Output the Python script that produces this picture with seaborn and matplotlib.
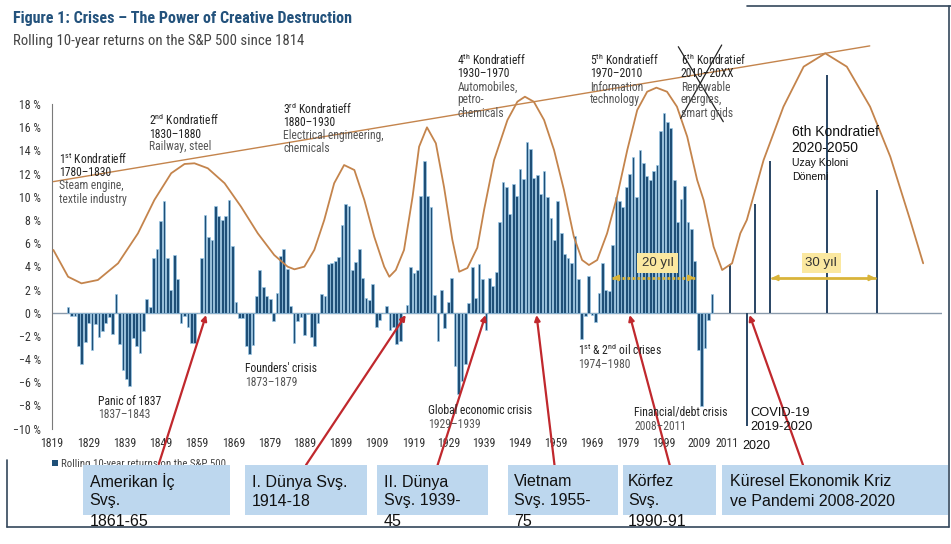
import numpy as np
import pandas as pd
import matplotlib
matplotlib.use('Agg')
import matplotlib.pyplot as plt
import seaborn as sns
from matplotlib.lines import Line2D
from matplotlib.patches import Rectangle
from matplotlib import font_manager

sns.set_style('white')
_avail = {f.name for f in font_manager.fontManager.ttflist}
NAME = next((n for n in ['Roboto Condensed', 'Fira Sans Condensed', 'PT Sans Narrow', 'Archivo Narrow',
                         'Asap Condensed', 'Liberation Sans Narrow'] if n in _avail), 'DejaVu Sans')
NARROW = [NAME, 'DejaVu Sans']
ARIAL = ['Liberation Sans', 'DejaVu Sans']
plt.rcParams['font.family'] = NARROW
plt.rcParams['mathtext.fontset'] = 'custom'
plt.rcParams['mathtext.rm'] = NAME
plt.rcParams['mathtext.it'] = NAME
plt.rcParams['mathtext.bf'] = NAME + ':bold'

# ---------------- data ----------------
years = list(range(1823, 2012))
returns = [0.46, -0.3, -0.3, -2.85, -4.45, -2.5, -0.9, -3.2, -1.0, -2.1,
           -1.6, -0.9, -0.35, -1.8, 1.6, -2.7, -4.9, -5.7, -6.3, -2.2,
           -2.9, -3.5, -1.6, 1.2, 0.5, 4.7, 5.5, 7.9, 9.6, 4.7,
           1.95, 5.0, 2.9, -0.86, -0.3, -1.2, -2.6, -2.6, 0, 4.7,
           8.4, 6.55, 6.3, 9.2, 8.3, 8.0, 8.3, 9.7, 5.75, 0.9,
           -0.43, -0.43, -2.9, -3.6, -2.8, 1.4, 3.7, 2.2, 1.4, 1.2,
           -0.7, 1.7, 4.9, 5.5, 3.8, 0.57, -2.6, -0.7, -0.4, -1.9,
           -0.1, -2.1, -2.9, -0.9, 1.6, 1.4, 4.2, 4.25, 4.5, 4.8,
           7.6, 9.4, 9.2, 3.7, 4.4, 5.5, 3.0, 1.3, 1.1, 2.5,
           -1.2, -0.6, 0, 0.6, -1.5, -1.2, -2.7, -2.4, 0, 0.63,
           3.9, 3.4, 3.7, 10.1, 13.1, 10.1, 9.1, 1.5, -2.4, 1.95,
           -1.35, 0.9, 3.0, -4.6, -7.0, -5.9, -4.4, 0.8, 3.9, 1.3,
           4.2, 2.9, -1.5, 3.0, 2.3, 3.5, 7.8, 11.3, 10.8, 8.5,
           11.1, 10.1, 12.4, 11.5, 14.7, 14.1, 11.6, 11.9, 10.2, 12.2,
           10.0, 8.2, 6.3, 9.6, 6.9, 5.1, 4.7, 4.25, 6.6, 2.9,
           -2.3, -0.3, 3.2, -0.2, -0.8, 1.7, 4.3, 2.0, 1.9, 5.8,
           10.0, 9.65, 9.1, 10.8, 12.0, 13.4, 10.0, 14.0, 12.9, 11.8,
           11.4, 12.2, 12.7, 15.7, 17.2, 16.4, 15.9, 11.4, 7.8, 9.8,
           10.9, 7.8, 7.2, 4.5, -3.2, -8.0, -3.0, -0.6, 1.6]

future_x = [2016.4, 2021.3, 2023.7, 2028.0, 2044.6, 2059.2]
future_returns = [4.2, -9.8, 9.4, 13.1, 20.5, 10.6]

wave_x = [1818.7, 1823.0, 1826.9, 1831.7, 1837.6, 1843.4, 1848.2, 1853.1, 1857.0, 1859.9,
          1863.8, 1868.7, 1873.5, 1878.4, 1883.2, 1887.1, 1889.1, 1892.0, 1894.9, 1897.8,
          1900.7, 1903.6, 1906.6, 1909.5, 1912.4, 1915.3, 1916.8, 1918.7, 1921.1, 1923.6,
          1925.5, 1927.8, 1930.4, 1932.8, 1935.2, 1937.2, 1939.6, 1942.5, 1944.5, 1947.4,
          1951.3, 1954.2, 1956.4, 1959.0, 1962.0, 1964.9, 1967.8, 1970.7, 1973.1, 1975.1,
          1977.5, 1980.4, 1983.3, 1986.3, 1989.2, 1992.1, 1994.8, 1997.9, 2000.8, 2003.8,
          2006.7, 2008.6, 2011.5, 2014.0, 2016.9, 2019.3, 2021.2, 2026.1, 2031.9, 2037.8,
          2044.1, 2050.4, 2057.2, 2063.1, 2068.9, 2072.7]
wave_y = [5.41, 3.10, 2.53, 2.82, 4.26, 6.84, 9.72, 12.02, 12.82, 12.88,
          12.45, 11.16, 9.14, 6.84, 4.97, 3.97, 3.74, 3.97, 5.41, 7.99,
          11.16, 12.73, 12.30, 9.72, 6.55, 3.97, 3.10, 3.68, 5.41, 10.0,
          14.31, 15.98, 14.60, 10.8, 6.3, 3.53, 3.85, 5.6, 8.9, 13.16,
          16.61, 18.19, 18.62, 18.19, 16.61, 14.03, 10.58, 6.55, 4.54, 4.11,
          4.54, 6.84, 10.0, 14.03, 17.47, 19.05, 19.40, 19.05, 17.76, 15.17,
          11.44, 9.7, 5.69, 3.68, 4.26, 6.84, 7.99, 13.16, 17.76, 21.21,
          22.36, 21.21, 17.76, 13.45, 7.99, 4.26]

trend_x = [1818.7, 2057.1]
trend_y = [11.3, 23.0]

tick_pos = [1818.3, 1829.0, 1839.5, 1850.0, 1860.7, 1871.3, 1881.8, 1892.2, 1902.7, 1913.1,
            1923.8, 1934.3, 1944.5, 1955.0, 1965.4, 1975.9, 1986.4, 1996.9, 2007.3, 2015.4, 2024.0]
tick_labels = ['1819', '1829', '1839', '1849', '1859', '1869', '1879', '1889', '1899', '1909',
               '1919', '1929', '1939', '1949', '1959', '1969', '1979', '1999', '2009', '2011', '2020']

y_ticks = list(range(-10, 19, 2))

arrow_years = [1863.3, 1921.6, 1944.9, 1959.8, 1987.0, 2022.0]
box_labels = ['Amerikan İç\nSvş.\n1861-65', 'I. Dünya Svş.\n1914-18', 'II. Dünya\nSvş. 1939-\n45',
              'Vietnam\nSvş. 1955-\n75', 'Körfez\nSvş.\n1990-91', 'Küresel Ekonomik Kriz\nve Pandemi 2008-2020']

# ---------------- figure ----------------
W, H = 951, 544
fig = plt.figure(figsize=(W / 100, H / 100), dpi=100)


def P(x, y):
    return (x / W, 1 - y / H)


ax = fig.add_axes([52 / W, 1 - 463.5 / H, 890 / W, 440.8 / H])
ax.patch.set_alpha(0)

NAVY = '#1f4f77'
ORANGE = '#c4844c'

ax.axhline(0, color='#8a9aab', lw=1.0, zorder=1)

hist = pd.DataFrame({'year': years, 'ret': returns})
sns.barplot(data=hist, x='year', y='ret', native_scale=True, width=0.8, color=NAVY,
            edgecolor='#9ccbea', linewidth=0.45, errorbar=None, saturation=1, ax=ax, zorder=2)
fut = pd.DataFrame({'year': future_x, 'ret': future_returns})
sns.barplot(data=fut, x='year', y='ret', native_scale=True, width=0.25, color='#2e4a68',
            linewidth=0, errorbar=None, saturation=1, ax=ax, zorder=2)

sns.lineplot(x=wave_x, y=wave_y, sort=False, color=ORANGE, lw=1.3, ax=ax, zorder=4)
sns.lineplot(x=trend_x, y=trend_y, sort=False, color=ORANGE, lw=1.0, ax=ax, zorder=4)

ax.set_xlim(1818.71, 2078.2)
ax.set_ylim(-13, 25)
for s in ['top', 'right', 'bottom']:
    ax.spines[s].set_visible(False)
ax.spines['left'].set_bounds(-10, 18)
ax.spines['left'].set_color('#7a7a7a')
ax.spines['left'].set_linewidth(0.8)
ax.set_yticks(y_ticks)
ax.set_yticklabels([f'{v} %'.replace('-', '\u2212') for v in y_ticks])
ax.tick_params(axis='y', length=5, width=0.8, color='#7a7a7a', pad=3, labelsize=8.6, labelcolor='#333333')
ax.set_xticks(tick_pos[:-1], tick_labels[:-1])
ax.set_xticks([tick_pos[-1]], [tick_labels[-1]], minor=True)
ax.tick_params(axis='x', which='major', length=0, pad=-19, labelsize=8.6, labelcolor='#333333')
ax.tick_params(axis='x', which='minor', length=0, pad=-17, labelsize=9, labelcolor='#111111')
for t in ax.xaxis.get_minorticklabels():
    t.set_family(ARIAL)
ax.set_xlabel('')
ax.set_ylabel('')

# ---------------- titles ----------------
fig.text(*P(13, 19), 'Figure 1: Crises \u2013 The Power of Creative Destruction', fontsize=11.6,
         fontweight='bold', color='#23527c', va='center')
fig.text(*P(13, 41), 'Rolling 10-year returns on the S&P 500 since 1814', fontsize=10.6,
         color='#444444', va='center')


def block(x, ys, lines, colors, size=8.4, family=NARROW):
    for y, s, c in zip(ys, lines, colors):
        fig.text(*P(x, y), s, fontsize=size, color=c, va='center', family=family)


DK, GR = '#222222', '#555555'
block(59.3, [159, 172.7, 186, 199.3],
      ['1$^{\\mathrm{st}}$ Kondratieff', '1780\u20131830', 'Steam engine,', 'textile industry'], [DK, DK, GR, GR])
block(149.3, [120, 134, 146.7],
      ['2$^{\\mathrm{nd}}$ Kondratieff', '1830\u20131880', 'Railway, steel'], [DK, DK, GR])
block(283, [109, 122.7, 136, 149],
      ['3$^{\\mathrm{rd}}$ Kondratieff', '1880\u20131930', 'Electrical engineering,', 'chemicals'], [DK, DK, GR, GR])
block(457.3, [60, 73.3, 87.3, 100, 113.3],
      ['4$^{\\mathrm{th}}$ Kondratieff', '1930\u20131970', 'Automobiles,', 'petro-', 'chemicals'], [DK, DK, GR, GR, GR])
block(590, [60, 73.3, 87.3, 100],
      ['5$^{\\mathrm{th}}$ Kondratieff', '1970\u20132010', 'Information', 'technology'], [DK, DK, GR, GR])
block(680.7, [60, 73.3, 87.3, 100, 113.3],
      ['6$^{\\mathrm{th}}$ Kondratief', '2010\u201320XX', 'Renewable', 'energies,', 'smart grids'], [DK, DK, GR, GR, GR])
fig.add_artist(Line2D([678.3 / W, 723.3 / W], [1 - 46.7 / H, 1 - 121.7 / H], color='#222222', lw=0.9))
fig.add_artist(Line2D([721.7 / W, 680.7 / W], [1 - 45 / H, 1 - 118.3 / H], color='#222222', lw=0.9))

block(791.7, [131.7, 147.7], ['6th Kondratief', '2020-2050'], ['#111111', '#111111'], size=10, family=ARIAL)
block(791.7, [163.3, 176.5], ['Uzay Koloni', 'Dönemi'], ['#111111', '#111111'], size=7.6, family=ARIAL)

# crisis labels
block(97.7, [401.7, 414.5], ['Panic of 1837', '1837\u20131843'], [DK, GR])
block(245, [368.3, 382.3], ["Founders' crisis", '1873\u20131879'], [DK, GR])
block(427.7, [410.7, 424], ['Global economic crisis', '1929\u20131939'], [DK, GR])
block(578.3, [350, 364], ['1$^{\\mathrm{st}}$ & 2$^{\\mathrm{nd}}$ oil crises', '1974\u20131980'], [DK, GR])
block(634.3, [412.7, 426.3], ['Financial/debt crisis', '2008\u20132011'], [DK, GR])
block(750, [412.7, 426.7], ['COVID-19', '2019-2020'], ['#111111', '#111111'], size=9.3, family=ARIAL)

# yellow callouts
YEL = '#d9b43a'
for (x0, x1, bx0, bx1, txt, ls) in [(1981.9, 2006.0, 636.7, 678.3, '20 yıl', (0, (1, 0.8))),
                                     (2028.5, 2058.7, 801.7, 840.7, '30 yıl', '-')]:
    ax.plot([x0, x1], [3.0, 3.0], color=YEL, lw=2.0, ls=ls, zorder=5)
    for a, b in [(x0 + 1.5, x0), (x1 - 1.5, x1)]:
        ax.annotate('', xy=(b, 3.0), xytext=(a, 3.0),
                    arrowprops=dict(arrowstyle='-|>', color=YEL, lw=1.5, mutation_scale=8,
                                    shrinkA=0, shrinkB=0), zorder=5)
    fig.add_artist(Rectangle(P(bx0, 272.5), (bx1 - bx0) / W, 19.5 / H, transform=fig.transFigure,
                             facecolor='#fbe8a0', edgecolor='none', zorder=5))
    fig.text(*P((bx0 + bx1) / 2, 263), txt, fontsize=9.5, color='#333333', ha='center', va='center',
             family=ARIAL, zorder=6)

# legend (mostly hidden by boxes)
fig.add_artist(Rectangle(P(51.5, 466), 6 / W, 6 / H, transform=fig.transFigure, facecolor=NAVY,
                         edgecolor='none', zorder=1))
fig.text(*P(61, 464), 'Rolling 10-year returns on the S&P 500', fontsize=7.8, color='#444444', va='center', zorder=1)

# blue boxes
boxes = [(83, 230), (245, 367), (377, 488), (508, 618), (623, 716), (722, 948)]
text_x = [89.7, 252, 384, 514, 628, 730]
for (b0, b1), tx, lab in zip(boxes, text_x, box_labels):
    fig.add_artist(Rectangle(P(b0, 515), (b1 - b0) / W, 50 / H, transform=fig.transFigure,
                             facecolor='#bdd7ee', edgecolor='none', zorder=3))
    for k, line in enumerate(lab.split('\n')):
        fig.text(*P(tx, [482, 501, 522][k]), line, fontsize=11.5, color='#111111', va='center',
                 family=ARIAL, zorder=4)

# red arrows
tails = [(158.8, 464), (306, 465), (437.6, 465), (554.5, 465), (669.7, 465), (803, 465)]
for yr, (tx, ty) in zip(arrow_years, tails):
    ax.annotate('', xy=(yr, -0.2), xycoords='data', xytext=P(tx, ty), textcoords='figure fraction',
                arrowprops=dict(arrowstyle='-|>', color='#c0282d', lw=1.6, mutation_scale=8,
                                shrinkA=0, shrinkB=0), annotation_clip=False, zorder=7)

# frame
FR = '#33475b'
for xs, ys in [([7, 949], [527, 527]), ([949, 949], [6, 527]), ([747, 951], [6, 6]), ([7, 7], [460, 527])]:
    fig.add_artist(Line2D([x / W for x in xs], [1 - y / H for y in ys], color=FR, lw=1.2))

fig.savefig('out.png', dpi=100)
